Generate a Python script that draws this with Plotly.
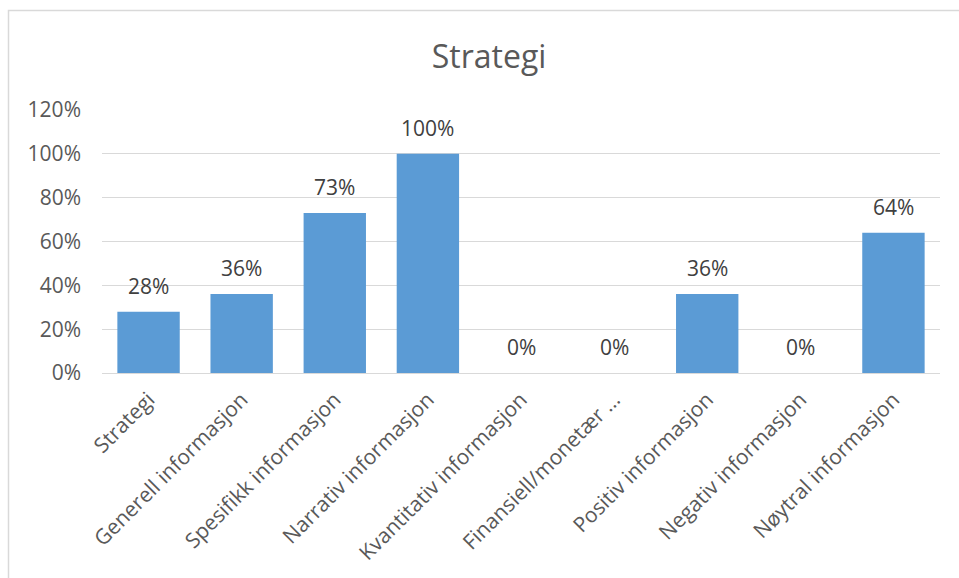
import plotly.graph_objects as go

categories = ["Strategi", "Generell informasjon", "Spesifikk informasjon", "Narrativ informasjon",
              "Kvantitativ informasjon", "Finansiell/monetær ...", "Positiv informasjon",
              "Negativ informasjon", "Nøytral informasjon"]
values = [0.28, 0.36, 0.73, 1.00, 0.0, 0.0, 0.36, 0.0, 0.64]
y_ticks = [0, 0.2, 0.4, 0.6, 0.8, 1.0, 1.2]

FONT = "Open Sans, Segoe UI, sans-serif"
GREY = "#595959"

fig = go.Figure(go.Bar(
    x=categories, y=values,
    marker=dict(color="#5B9BD5", line=dict(width=0)),
    cliponaxis=False,
))

W, H = 959, 578
ml, mr, mt, mb = 102, 19, 110, 205
pw, ph = W - ml - mr, H - mt - mb

def px_x(x):
    return (x - ml) / pw

def px_y(y):
    return (H - mb - y) / ph

annotations = [
    dict(x=c, y=v, xref="x", yref="y", text=f"{round(v * 100)}%", showarrow=False,
         yanchor="bottom", yshift=10, font=dict(family=FONT, size=21, color="#404040"))
    for c, v in zip(categories, values)
]

fig.update_layout(
    width=W, height=H,
    margin=dict(l=ml, r=mr, t=mt, b=mb, pad=0),
    paper_bgcolor="white", plot_bgcolor="white",
    bargap=0.33,
    showlegend=False,
    title=dict(text="Strategi", x=0.51, xanchor="center", y=1 - 57 / H, yanchor="middle",
               font=dict(family=FONT, size=32, color=GREY)),
    xaxis=dict(showgrid=False, tickangle=-45, showline=True, linecolor="#D9D9D9", linewidth=1,
               tickfont=dict(family=FONT, size=21, color=GREY), ticks="", ticklen=0,
               ticklabelstandoff=5),
    yaxis=dict(range=[0, 1.2], tickvals=y_ticks, tickformat=".0%", showgrid=True,
               gridcolor="#D9D9D9", gridwidth=1, zeroline=False, showline=False,
               tickfont=dict(family=FONT, size=21, color=GREY), ticks="", ticklabelstandoff=20),
    annotations=annotations,
    shapes=[dict(type="rect", xref="paper", yref="paper",
                 x0=px_x(8.5), x1=px_x(975), y0=px_y(600), y1=px_y(10.5),
                 line=dict(color="#D9D9D9", width=1.5), fillcolor="rgba(0,0,0,0)", layer="below")],
)

fig.write_html("out.html")
